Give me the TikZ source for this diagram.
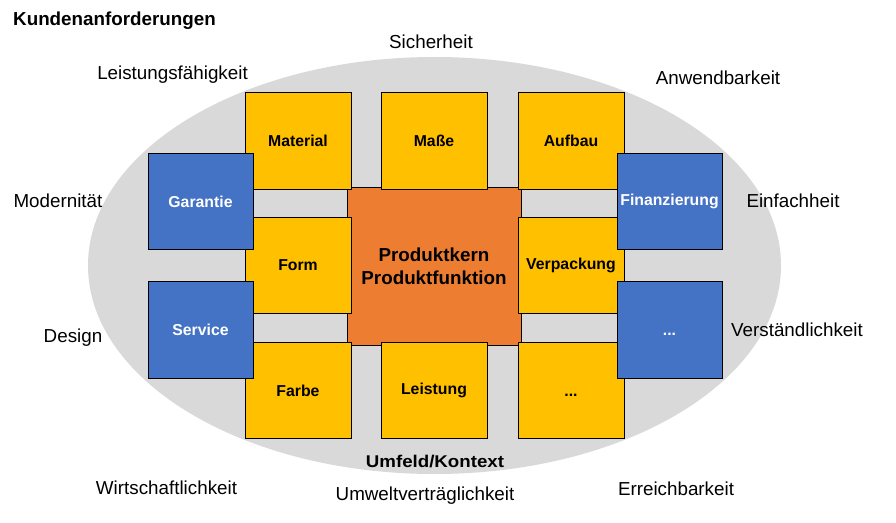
\documentclass[tikz,border=0pt]{standalone}
\usepackage{fontspec}
\setmainfont{Liberation Sans}
\usetikzlibrary{shapes.geometric}
\definecolor{ellgrey}{HTML}{D9D9D9}
\definecolor{yel}{HTML}{FFC000}
\definecolor{org}{HTML}{ED7D31}
\definecolor{blu}{HTML}{4472C4}
\begin{document}
\begin{tikzpicture}[x=1pt,y=-1pt,
  box/.style={draw=black, line width=1pt, minimum width=106pt, minimum height=96.5pt,
    inner sep=0pt, font=\fontsize{15.8}{18}\selectfont\bfseries, align=center},
  ybox/.style={box, fill=yel},
  bbox/.style={box, fill=blu, text=white, minimum width=105pt, minimum height=96.5pt},
  lbl/.style={font=\fontsize{18.8}{22}\selectfont, inner sep=0pt, anchor=base}]
\fill[white] (0,0) rectangle (896,522);
\useasboundingbox (0,0) rectangle (896,522);
% environment ellipse
\node[ellipse, fill=ellgrey, minimum width=693pt, minimum height=417pt, inner sep=0pt] (env) at (434.5,265.5) {};
% core
\node[box, fill=org, minimum width=174pt, minimum height=158pt,
      font=\fontsize{18.8}{22.6}\selectfont\bfseries] (core) at (434,266) {Produktkern\\Produktfunktion};
% yellow boxes
\node[ybox] (material) at (298,141) {Material};
\node[ybox] (masse) at (434,141) {Maße};
\node[ybox] (aufbau) at (571,141) {Aufbau};
\node[ybox] (form) at (298,265.5) {Form};
\node[ybox] (verpackung) at (571,265.5) {Verpackung};
\node[ybox] (farbe) at (298,390.5) {Farbe};
\node[ybox] (leistung) at (434,390.5) {Leistung};
\node[ybox] (ydots) at (571,390.5) {\raisebox{-6pt}[0pt][0pt]{...}};
% blue boxes
\node[bbox] (garantie) at (200.5,201.5) {Garantie};
\node[bbox] (service) at (200.5,330) {Service};
\node[bbox] (finanz) at (669.5,201.5) {Finanzierung};
\node[bbox] (bdots) at (669.5,330) {\raisebox{-5pt}[0pt][0pt]{...}};
% labels
\node[lbl, anchor=base west, font=\fontsize{18.8}{22}\selectfont\bfseries] (title) at (13,25) {Kundenanforderungen};
\node[lbl] (sicher) at (431,48) {Sicherheit};
\node[lbl] (leist) at (172.5,79) {Leistungsfähigkeit};
\node[lbl] (anwend) at (718,84.5) {Anwendbarkeit};
\node[lbl] (modern) at (58,207) {Modernität};
\node[lbl] (einfach) at (793,207) {Einfachheit};
\node[lbl] (design) at (73,342.5) {Design};
\node[lbl] (verst) at (797,336) {Verständlichkeit};
\node[lbl] (wirt) at (166.5,494) {Wirtschaftlichkeit};
\node[lbl] (umwelt) at (425,500.5) {Umweltverträglichkeit};
\node[lbl] (erreich) at (676,495) {Erreichbarkeit};
\node[lbl, font=\fontsize{17}{20}\selectfont\bfseries] (umfeld) at (435,467) {\scalebox{1.1}[1]{Umfeld/Kontext}};
\end{tikzpicture}
\end{document}
